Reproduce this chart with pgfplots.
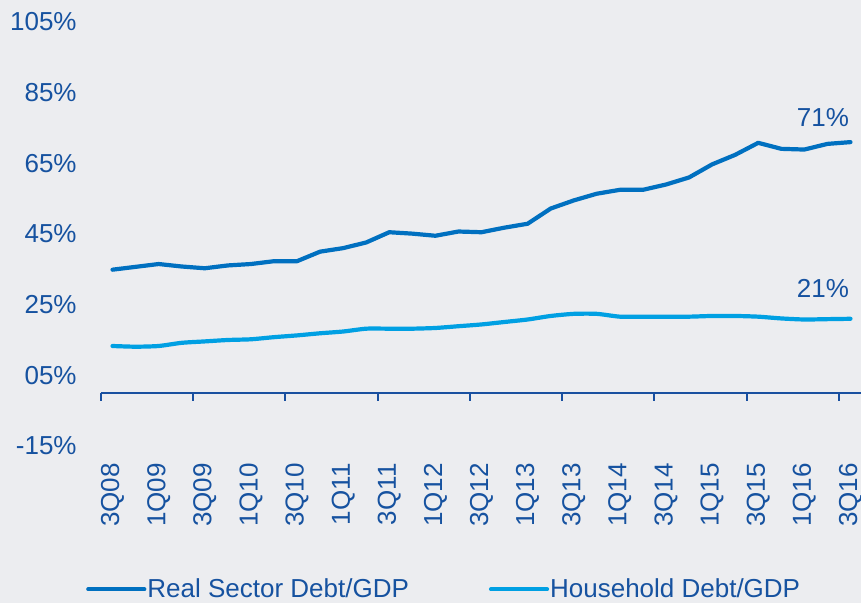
\documentclass[border=0pt]{standalone}
\usepackage{pgfplots}
\pgfplotsset{compat=1.18}
\usepackage{fontspec}
\setmainfont{Liberation Sans}
\definecolor{realc}{RGB}{0,112,192}
\definecolor{housec}{RGB}{0,160,227}
\definecolor{txtc}{RGB}{22,82,160}
\definecolor{axc}{RGB}{25,80,160}
\definecolor{bgc}{RGB}{236,237,240}
\begin{document}
\begin{tikzpicture}
\fill[bgc] (-50.5pt,-78.5pt) rectangle (380pt,223pt);
\begin{axis}[
  at={(0,0)}, anchor=south west,
  scale only axis, width=380.5pt, height=212pt,
  xmin=-0.5, xmax=32.5, ymin=-15, ymax=105,
  axis line style={draw=none},
  major tick length=0pt,
  font=\fontsize{13}{15.6}\selectfont,
  tick label style={text=txtc, inner sep=0pt},
  xtick={0,2,...,32},
  xticklabels={3Q08,1Q09,3Q09,1Q10,3Q10,1Q11,3Q11,1Q12,3Q12,1Q13,3Q13,1Q14,3Q14,1Q15,3Q15,1Q16,3Q16},
  xticklabel style={rotate=90, anchor=east},
  xticklabel shift=8.5pt,
  ytick={-15,5,25,45,65,85,105},
  yticklabels={-15\%,05\%,25\%,45\%,65\%,85\%,105\%},
  yticklabel style={anchor=east},
  yticklabel shift=12pt,
  clip=false,
  legend columns=2,
  legend style={at={(-0.02,-0.338)}, anchor=west, draw=none, fill=none,
    inner sep=0pt, font=\fontsize{13}{15.6}\selectfont, text=txtc,
    nodes={inner sep=0.5pt},
    /tikz/every even column/.append style={column sep=39.5pt}},
  legend image code/.code={\draw[#1] (0pt,0pt) -- (28pt,0pt);},
]
\addplot[realc, line width=2.1pt, line join=round, line cap=round] coordinates {
(0,34.9) (1,35.7) (2,36.5) (3,35.8) (4,35.3) (5,36.1) (6,36.5) (7,37.3) (8,37.3)
(9,40.0) (10,41.0) (11,42.6) (12,45.5) (13,45.1) (14,44.5) (15,45.7) (16,45.5)
(17,46.8) (18,47.9) (19,52.2) (20,54.5) (21,56.4) (22,57.5) (23,57.5) (24,59.0)
(25,61.0) (26,64.7) (27,67.4) (28,70.8) (29,69.1) (30,68.9) (31,70.5) (32,71.0)};
\addlegendentry{Real Sector Debt/GDP}
\addplot[housec, line width=2.1pt, smooth, tension=0.4, line cap=round] coordinates {
(0,13.3) (1,13.1) (2,13.3) (3,14.2) (4,14.6) (5,15.0) (6,15.2) (7,15.8) (8,16.3)
(9,16.9) (10,17.4) (11,18.2) (12,18.2) (13,18.2) (14,18.4) (15,18.9) (16,19.4)
(17,20.1) (18,20.8) (19,21.8) (20,22.4) (21,22.4) (22,21.6) (23,21.6) (24,21.6)
(25,21.6) (26,21.8) (27,21.8) (28,21.6) (29,21.1) (30,20.8) (31,20.9) (32,21.0)};
\addlegendentry{Household Debt/GDP}
\draw[axc, line width=1pt] (axis cs:-0.5,0) -- (axis cs:32.5,0);
\draw[axc, line width=1pt]
  (axis cs:-0.5,0) -- ([yshift=-3.85pt]axis cs:-0.5,0)
  (axis cs:3.5,0) -- ([yshift=-3.85pt]axis cs:3.5,0)
  (axis cs:7.5,0) -- ([yshift=-3.85pt]axis cs:7.5,0)
  (axis cs:11.5,0) -- ([yshift=-3.85pt]axis cs:11.5,0)
  (axis cs:15.5,0) -- ([yshift=-3.85pt]axis cs:15.5,0)
  (axis cs:19.5,0) -- ([yshift=-3.85pt]axis cs:19.5,0)
  (axis cs:23.5,0) -- ([yshift=-3.85pt]axis cs:23.5,0)
  (axis cs:27.5,0) -- ([yshift=-3.85pt]axis cs:27.5,0)
  (axis cs:31.5,0) -- ([yshift=-3.85pt]axis cs:31.5,0);
\node[anchor=east, text=txtc, inner sep=0pt] at (axis cs:31.95,77.9) {71\%};
\node[anchor=east, text=txtc, inner sep=0pt] at (axis cs:31.95,29.5) {21\%};
\end{axis}
\pgfresetboundingbox
\path[use as bounding box] (-50.5pt,-78.5pt) rectangle (380pt,223pt);
\end{tikzpicture}
\end{document}
